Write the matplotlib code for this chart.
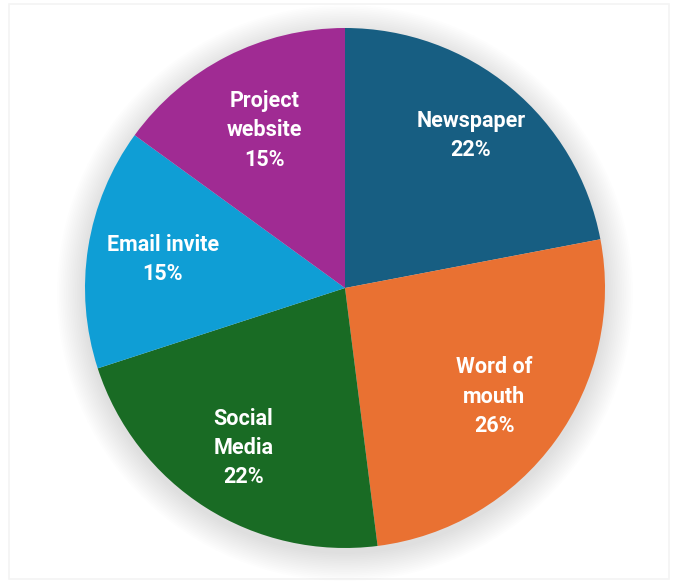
import numpy as np
import matplotlib.pyplot as plt
from matplotlib.patches import Circle, Rectangle

# Data
labels = ["Newspaper", "Word of\nmouth", "Social\nMedia", "Email invite", "Project\nwebsite"]
shares = [22, 26, 22, 15, 15]
colors = ["#175E82", "#E97132", "#196B24", "#0F9ED5", "#A02B93"]
label_r = [0.76, 0.71, 0.73, 0.71, 0.68]

fig = plt.figure(figsize=(6.75, 5.84), dpi=100, facecolor="white")
ax = fig.add_axes([0, 0, 1, 1])

cx, cy, R = 345, 296, 260

# faint frame
ax.add_patch(Rectangle((9, 5), 660, 575, fill=False, edgecolor="#f4f4f4", linewidth=1.2, zorder=0))

# soft shadow around the pie
for i in range(16):
    ax.add_patch(Circle((cx, cy - 5), R + 1 + i * 1.8, color="black", alpha=0.007, linewidth=0, zorder=1))

wedges, _ = ax.pie(shares, colors=colors, startangle=90, counterclock=False,
                   center=(cx, cy), radius=R, frame=True,
                   wedgeprops=dict(linewidth=0, zorder=2))
ax.set_xlim(0, 675)
ax.set_ylim(0, 584)
ax.set_aspect("equal")
ax.axis("off")

for w, lab, s, r in zip(wedges, labels, shares, label_r):
    ang = np.deg2rad((w.theta1 + w.theta2) / 2)
    x = cx + r * R * np.cos(ang)
    y = cy + r * R * np.sin(ang)
    ax.text(x, y, f"{lab}\n{s}%", ha="center", va="center", color="white",
            fontsize=15.5, fontweight="bold", linespacing=1.42,
            family=["Roboto", "DejaVu Sans"], zorder=3)

fig.savefig("out.png", dpi=100, facecolor="white")
